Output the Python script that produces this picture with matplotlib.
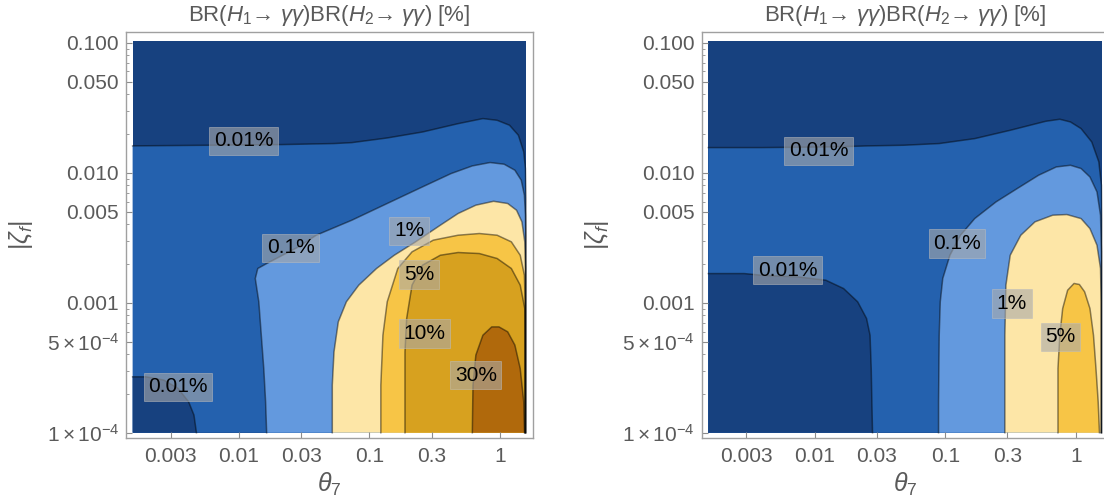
import numpy as np
import matplotlib
matplotlib.use('Agg')
import matplotlib.pyplot as plt
from matplotlib.ticker import FixedLocator, LogLocator, NullFormatter, NullLocator

plt.rcParams['font.family'] = ['Liberation Sans', 'DejaVu Sans']
plt.rcParams['mathtext.fontset'] = 'custom'
plt.rcParams['mathtext.rm'] = 'Liberation Sans'
plt.rcParams['mathtext.it'] = 'Liberation Sans:italic'
plt.rcParams['mathtext.bf'] = 'Liberation Sans:bold'

# plotted range (log10 units) and frame range
LOG_T_MIN, LOG_T_MAX = -2.815, 0.2
LOG_Z_MIN, LOG_Z_MAX = -4.0, -0.985
FRAME_T = (-2.866, 0.253)
FRAME_Z = (-4.043, -0.918)

# fill colours per band: <0.01, 0.01-0.1, 0.1-1, 1-5, 5-10, 10-30, >30 (%)
band_colors = ['#17417f', '#2461ae', '#6399de', '#fde6a7', '#f7c546', '#d7a11f', '#b0690c']

x_ticks = [0.003, 0.01, 0.03, 0.1, 0.3, 1]
x_tick_labels = ['0.003', '0.01', '0.03', '0.1', '0.3', '1']
y_ticks = [0.1, 0.05, 0.01, 0.005, 0.001, 5e-4, 1e-4]
y_tick_labels = ['0.100', '0.050', '0.010', '0.005', '0.001',
                 r'$5\times10^{-4}$', r'$1\times10^{-4}$']

# ---- left panel contours, log10(theta7) / log10(|zeta_f|) ----
left_001_up_t = [-2.815, -2.223, -1.679, -1.272, -1.136, -0.864, -0.593, -0.321, -0.131,
                 -0.022, 0.073, 0.141, 0.182, 0.195, 0.199, 0.199]
left_001_up_z = [-1.794, -1.789, -1.784, -1.776, -1.769, -1.733, -1.687, -1.623, -1.584,
                 -1.597, -1.635, -1.712, -1.840, -1.968, -2.200, -4.0]
left_001_low_t = [-2.815, -2.712, -2.576, -2.467, -2.386, -2.345, -2.326]
left_001_low_z = [-3.570, -3.570, -3.595, -3.659, -3.762, -3.864, -4.0]
left_01_t = [-1.788, -1.796, -1.810, -1.829, -1.848, -1.875, -1.856, -1.788, -1.544, -1.408,
             -1.136, -0.864, -0.593, -0.375, -0.212, -0.076, 0.032, 0.114, 0.163, 0.187,
             0.195, 0.197, 0.197]
left_01_z = [-4.0, -3.762, -3.506, -3.250, -2.993, -2.814, -2.737, -2.699, -2.571, -2.481,
             -2.366, -2.237, -2.109, -2.007, -1.948, -1.922, -1.935, -1.981, -2.058, -2.173,
             -2.327, -2.481, -4.0]
left_1_t = [-1.285, -1.285, -1.272, -1.239, -1.177, -1.082, -0.946, -0.810, -0.647, -0.457,
            -0.321, -0.185, -0.049, 0.059, 0.127, 0.168, 0.190, 0.195, 0.195]
left_1_z = [-4.0, -3.634, -3.378, -3.147, -2.993, -2.865, -2.737, -2.635, -2.532, -2.404,
            -2.314, -2.250, -2.220, -2.237, -2.289, -2.378, -2.532, -2.737, -4.0]
left_5_t = [-0.913, -0.913, -0.897, -0.864, -0.783, -0.674, -0.511, -0.321, -0.158, -0.022,
            0.087, 0.155, 0.187, 0.193, 0.193]
left_5_z = [-4.0, -3.634, -3.250, -2.993, -2.737, -2.609, -2.519, -2.481, -2.468, -2.481,
            -2.532, -2.635, -2.788, -2.993, -4.0]
left_10_t = [-0.728, -0.728, -0.715, -0.674, -0.593, -0.457, -0.321, -0.158, -0.022, 0.087,
             0.155, 0.190, 0.191, 0.191]
left_10_z = [-4.0, -3.378, -3.121, -2.865, -2.711, -2.635, -2.614, -2.622, -2.660, -2.737,
             -2.865, -3.045, -3.250, -4.0]
left_30_t = [-0.212, -0.207, -0.185, -0.131, -0.063, -0.008, 0.059, 0.114, 0.155, 0.182, 0.188]
left_30_z = [-4.0, -3.634, -3.403, -3.250, -3.186, -3.186, -3.224, -3.326, -3.506, -3.762, -4.0]

left_label_text = ['0.01%', '0.1%', '1%', '5%', '10%', '30%', '0.01%']
left_label_t = [-1.965, -1.603, -0.696, -0.620, -0.579, -0.185, -2.467]
left_label_z = [-1.756, -2.578, -2.448, -2.783, -3.237, -3.557, -3.647]

# ---- right panel contours ----
right_001_up_t = [-2.815, -2.404, -1.861, -1.589, -1.317, -1.046, -0.774, -0.502, -0.231,
                  -0.122, -0.040, 0.041, 0.123, 0.177, 0.197, 0.199, 0.199]
right_001_up_z = [-1.807, -1.807, -1.802, -1.794, -1.789, -1.776, -1.738, -1.674, -1.605,
                  -1.589, -1.610, -1.661, -1.764, -1.917, -2.097, -2.353, -4.0]
right_001_low_t = [-2.815, -2.540, -2.404, -2.132, -1.915, -1.779, -1.671, -1.603, -1.576,
                   -1.567, -1.562, -1.557]
right_001_low_z = [-2.776, -2.776, -2.789, -2.801, -2.827, -2.891, -2.993, -3.121, -3.250,
                   -3.506, -3.762, -4.0]
right_01_t = [-1.051, -1.051, -1.046, -1.038, -1.019, -0.964, -0.883, -0.774, -0.611, -0.448,
              -0.285, -0.149, -0.040, 0.041, 0.109, 0.163, 0.190, 0.197, 0.197]
right_01_z = [-4.0, -3.762, -3.250, -2.993, -2.814, -2.635, -2.481, -2.353, -2.225, -2.122,
              -2.020, -1.956, -1.943, -1.968, -2.033, -2.148, -2.327, -2.609, -4.0]
right_1_t = [-0.543, -0.543, -0.535, -0.502, -0.421, -0.312, -0.176, -0.068, 0.041, 0.109,
             0.163, 0.190, 0.195, 0.195]
right_1_z = [-4.0, -3.250, -2.865, -2.635, -2.481, -2.378, -2.327, -2.322, -2.353, -2.430,
             -2.558, -2.737, -2.993, -4.0]
right_5_t = [-0.136, -0.136, -0.122, -0.100, -0.062, -0.013, 0.028, 0.068, 0.109, 0.136,
             0.155, 0.172, 0.182]
right_5_z = [-4.0, -3.506, -3.250, -3.045, -2.904, -2.852, -2.860, -2.916, -3.045, -3.250,
             -3.506, -3.762, -4.0]

right_label_text = ['0.01%', '0.01%', '0.1%', '1%', '5%']
right_label_t = [-1.970, -2.209, -0.910, -0.489, -0.117]
right_label_z = [-1.833, -2.750, -2.545, -3.006, -3.262]


def draw_panel(ax, contours, labels):
    ax.set_xscale('log')
    ax.set_yscale('log')
    # lowest band fills the whole plotted range
    ax.fill(10 ** np.array([LOG_T_MIN, LOG_T_MAX, LOG_T_MAX, LOG_T_MIN]),
            10 ** np.array([LOG_Z_MIN, LOG_Z_MIN, LOG_Z_MAX, LOG_Z_MAX]),
            color=band_colors[0], lw=0, zorder=1)
    for t, z, color in contours:
        pt = list(t) + [LOG_T_MIN]
        pz = list(z) + [LOG_Z_MIN]
        ax.fill(10 ** np.array(pt), 10 ** np.array(pz), color=color, lw=0, zorder=1)
        ax.plot(10 ** np.array(t), 10 ** np.array(z), color='black', alpha=0.45,
                lw=1.1, zorder=2, solid_joinstyle='round')
    for text, t, z in zip(*labels):
        ax.text(10 ** t, 10 ** z, text, fontsize=15, color='black', ha='center',
                va='center', zorder=3,
                bbox=dict(boxstyle='square,pad=0.22', facecolor='#a9a9a9',
                          edgecolor='#bdbdbd', linewidth=0.6, alpha=0.6))

    ax.set_xlim(10 ** FRAME_T[0], 10 ** FRAME_T[1])
    ax.set_ylim(10 ** FRAME_Z[0], 10 ** FRAME_Z[1])
    ax.xaxis.set_major_locator(FixedLocator(x_ticks))
    ax.set_xticklabels(x_tick_labels)
    ax.xaxis.set_minor_locator(NullLocator())
    ax.yaxis.set_major_locator(FixedLocator(y_ticks))
    ax.set_yticklabels(y_tick_labels)
    ax.yaxis.set_minor_locator(LogLocator(base=10, subs=np.arange(2, 10)))
    ax.yaxis.set_minor_formatter(NullFormatter())
    ax.tick_params(axis='both', which='major', direction='in', length=4, width=0.8,
                   color='#8c8c8c', labelcolor='#5a5a5a', labelsize=15)
    ax.tick_params(axis='x', which='major', pad=6)
    ax.tick_params(axis='y', which='major', pad=5)
    ax.tick_params(axis='y', which='minor', direction='in', length=2, width=0.6,
                   color='#8c8c8c')
    for s in ax.spines.values():
        s.set_color('#a0a0a0')
        s.set_linewidth(1.0)
    ax.set_title(r'BR($H_1$→ $γγ$)BR($H_2$→ $γγ$) [%]', fontsize=16, color='#5a5a5a', pad=8)
    ax.set_xlabel(r'$θ_7$', fontsize=18, color='#5a5a5a', labelpad=4)
    ax.set_ylabel(r'$|ζ_f|$', fontsize=18, color='#5a5a5a', labelpad=8)


fig = plt.figure(figsize=(11.04, 5.03), dpi=100)
ax1 = fig.add_axes([0.1141, 0.1286, 0.3687, 0.8078])
ax2 = fig.add_axes([0.6356, 0.1286, 0.3687, 0.8078])

left_contours = [
    (left_001_up_t, left_001_up_z, band_colors[1]),
    (left_001_low_t, left_001_low_z, band_colors[0]),
    (left_01_t, left_01_z, band_colors[2]),
    (left_1_t, left_1_z, band_colors[3]),
    (left_5_t, left_5_z, band_colors[4]),
    (left_10_t, left_10_z, band_colors[5]),
    (left_30_t, left_30_z, band_colors[6]),
]
right_contours = [
    (right_001_up_t, right_001_up_z, band_colors[1]),
    (right_001_low_t, right_001_low_z, band_colors[0]),
    (right_01_t, right_01_z, band_colors[2]),
    (right_1_t, right_1_z, band_colors[3]),
    (right_5_t, right_5_z, band_colors[4]),
]

draw_panel(ax1, left_contours, (left_label_text, left_label_t, left_label_z))
draw_panel(ax2, right_contours, (right_label_text, right_label_t, right_label_z))

fig.savefig('out.png', dpi=100)
